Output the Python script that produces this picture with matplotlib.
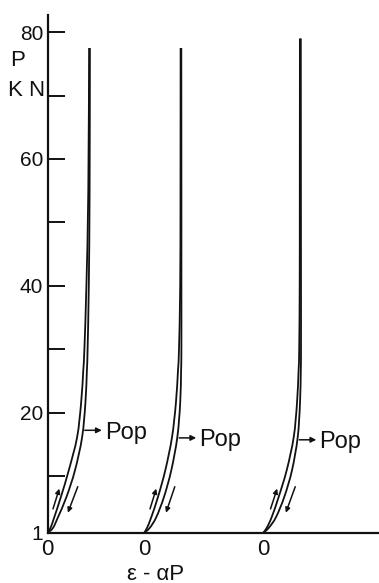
import matplotlib
matplotlib.use("Agg")
import matplotlib.pyplot as plt
from matplotlib.path import Path
from matplotlib.patches import PathPatch
import numpy as np

plt.rcParams["font.family"] = ["Liberation Sans", "DejaVu Sans"]

# Load levels (kN) at which strain readings are tabulated
load_kn = [1, 1.8, 3.5, 6.7, 10.9, 16.1, 21.5, 26.7, 30, 40, 55]

# Horizontal shift of each specimen's origin along the (eps - alpha*P) axis
panel_origin = [0, 96.5, 215.5]
# Highest load reached by each specimen (kN)
panel_top = [77.5, 77.5, 79.0]
strain_at_top_up = [41.6, 36.6, 36.9]
strain_at_top_down = [42.4, 37.3, 37.8]

# Loading branch (eps - alpha*P), one list per specimen
strain_up = [
    [0, 3.0, 6.8, 13.4, 21.3, 29.6, 33.6, 35.8, 36.9, 38.9, 40.8],
    [0, 3.0, 7.3, 14.0, 21.3, 28.0, 31.9, 34.0, 35.0, 36.2, 36.5],
    [0, 3.7, 8.7, 15.7, 23.7, 30.7, 34.0, 35.6, 36.2, 36.7, 36.8],
]
# Unloading branch
strain_down = [
    [0, 5.5, 10.5, 19.0, 27.5, 34.6, 37.9, 39.4, 40.1, 41.3, 42.1],
    [0, 5.7, 12.3, 20.0, 27.3, 33.3, 36.2, 37.1, 37.4, 37.4, 37.4],
    [0, 5.7, 13.0, 21.3, 29.0, 34.7, 37.0, 37.8, 38.0, 38.0, 37.9],
]

# Load at which the "Pop" marker is placed for each specimen
pop_load = [17.2, 16.0, 15.7]

y_tick_values = [1, 20, 40, 60, 80]
y_tick_labels = ["1", "20", "40", "60", "80"]
y_minor_values = [10, 30, 50, 70]

ink = "#111111"


def smooth_path(xs, ys):
    """Catmull-Rom curve through the readings, as cubic Bezier segments."""
    pts = np.column_stack([xs, ys]).astype(float)
    ext = np.vstack([pts[0], pts, pts[-1]])
    verts = [pts[0]]
    codes = [Path.MOVETO]
    for k in range(1, len(ext) - 2):
        p0, p1, p2, p3 = ext[k - 1], ext[k], ext[k + 1], ext[k + 2]
        verts += [p1 + (p2 - p0) / 6.0, p2 - (p3 - p1) / 6.0, p2]
        codes += [Path.CURVE4] * 3
    return Path(verts, codes)


fig = plt.figure(figsize=(3.79, 5.83), dpi=100)
ax = fig.add_axes([47.5 / 379, 50 / 583, 331.5 / 379, 518 / 583])
ax.set_xlim(0, 331.5)
ax.set_ylim(1, 1 + 518 / 6.34)

for sp in ("top", "right"):
    ax.spines[sp].set_visible(False)
for sp in ("left", "bottom"):
    ax.spines[sp].set_linewidth(1.6)
    ax.spines[sp].set_color(ink)

ax.set_yticks(y_tick_values)
ax.set_yticklabels(y_tick_labels, fontsize=15)
ax.set_yticks(y_minor_values, minor=True)
ax.tick_params(axis="y", which="both", direction="in", length=12, width=1.4,
               pad=3, colors=ink)
ax.set_xticks([])

for i in range(3):
    x0 = panel_origin[i]
    P = load_kn + [panel_top[i]]
    up = strain_up[i] + [strain_at_top_up[i]]
    dn = strain_down[i] + [strain_at_top_down[i]]
    for branch in (up, dn):
        ax.add_patch(PathPatch(smooth_path(np.array(branch) + x0, P),
                               fill=False, edgecolor=ink, lw=1.3))

    # direction arrows beside the loading / unloading branches
    p_a, p_b = 4.8, 8.0
    ax.annotate("", xy=(np.interp(p_b, P, up) + x0 - 4, p_b),
                xytext=(np.interp(p_a, P, up) + x0 - 4, p_a),
                arrowprops=dict(arrowstyle="-|>", lw=1.1, color=ink,
                                mutation_scale=7, shrinkA=0, shrinkB=0))
    p_c, p_d = 8.3, 4.2
    ax.annotate("", xy=(np.interp(p_d, P, dn) + x0 + 8, p_d),
                xytext=(np.interp(p_c, P, dn) + x0 + 8, p_c),
                arrowprops=dict(arrowstyle="-|>", lw=1.1, color=ink,
                                mutation_scale=7, shrinkA=0, shrinkB=0))

    # "Pop" marker
    xp = np.interp(pop_load[i], P, dn) + x0 + 2
    ax.annotate("", xy=(xp + 17, pop_load[i]), xytext=(xp, pop_load[i]),
                arrowprops=dict(arrowstyle="-|>", lw=1.1, color=ink,
                                mutation_scale=8, shrinkA=0, shrinkB=0))
    ax.text(xp + 20, pop_load[i] - 0.4, "Pop", fontsize=17, color=ink,
            ha="left", va="center")

    # origin label of each shifted curve
    ax.text(x0, 0.0, "0", fontsize=16, color=ink, ha="center", va="top",
            clip_on=False)

fig.text(10 / 379, 1 - 61 / 583, "P", fontsize=16, color=ink,
         ha="left", va="center")
fig.text(8 / 379, 1 - 91 / 583, "K N", fontsize=16, color=ink,
         ha="left", va="center")
fig.text(156 / 379, 1 - 574 / 583, "ε - αP", fontsize=16, color=ink,
         ha="center", va="center")

fig.savefig("out.png", dpi=100, facecolor="white")
